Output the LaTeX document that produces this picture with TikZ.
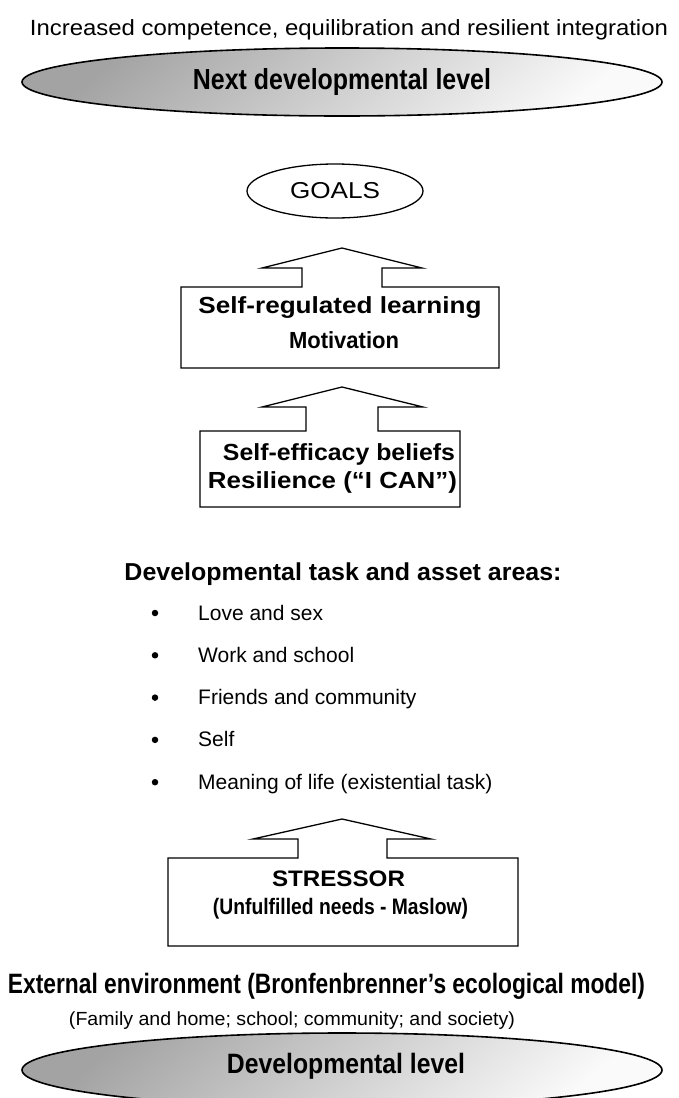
\documentclass[tikz,border=0pt]{standalone}
\usepackage{fontspec}
\setmainfont{Liberation Sans}
\usepackage{graphicx}
\usetikzlibrary{shapes.geometric}
% set a line of text at a given width, keeping its height
\newcommand\fitto[2]{\resizebox{#1}{\height}{#2}}
\newcommand\fs[1]{\fontsize{#1}{#1}\selectfont}
\begin{document}
\begin{tikzpicture}[x=1pt,y=-1pt,
  lbl/.style={inner sep=0pt, anchor=base},
  item/.style={inner sep=0pt, anchor=base west, font=\fs{21}},
  boxline/.style={draw=black, line width=1.3pt, line join=miter},
  level/.style={ellipse, draw=black, line width=1.6pt, inner sep=0pt,
    top color=black!36, bottom color=black!2, shading angle=40},
  dot/.style={circle, fill=black, inner sep=0pt, minimum size=6.5pt}]
\useasboundingbox (0,0) rectangle (678,1098);

% top caption and next level
\node[lbl, font=\fs{22}] (outcome) at (349,35.5)
  {\fitto{638pt}{Increased competence, equilibration and resilient integration}};
\node[level, minimum width=640pt, minimum height=68pt] (next) at (342,82) {};
\node[lbl, font=\fs{29}\bfseries] (nexttxt) at (342,89)
  {\fitto{298pt}{Next developmental level}};

% goals
\node[ellipse, draw=black, line width=1.3pt, minimum width=176pt, minimum height=54pt] (goals) at (335,191) {};
\node[lbl, font=\fs{23}] (goalstxt) at (335,198.3) {\fitto{90pt}{GOALS}};

% self-regulated learning box with arrow
\draw[boxline] (181,368) -- (181,287) -- (302,287) -- (302,268) -- (262,268)
  -- (342,248) -- (422,268) -- (382,268) -- (382,287) -- (499,287) -- (499,368) -- cycle;
\node[lbl, font=\fs{23.3}\bfseries] (srl) at (340,313) {\fitto{283pt}{Self-regulated learning}};
\node[lbl, font=\fs{23.3}\bfseries] (motiv) at (344,348.3) {\fitto{110pt}{Motivation}};

% self-efficacy box with arrow
\draw[boxline] (200,507) -- (200,431) -- (306,431) -- (306,407) -- (262,407)
  -- (342,387) -- (423,407) -- (378,407) -- (378,431) -- (460,431) -- (460,507) -- cycle;
\node[lbl, font=\fs{23.3}\bfseries] (eff) at (339,460) {\fitto{232pt}{Self-efficacy beliefs}};
\node[lbl, font=\fs{23.3}\bfseries] (resil) at (332.5,488.3) {\fitto{249pt}{Resilience (“I CAN”)}};

% developmental task areas
\node[lbl, font=\fs{24.5}\bfseries] (areas) at (343,580) {\fitto{437pt}{Developmental task and asset areas:}};
\foreach \yy/\txt [count=\i] in {620/Love and sex, 662.3/Work and school,
    704.6/Friends and community, 746.9/Self, 789.2/Meaning of life (existential task)} {
  \node[dot] (b\i) at (155,\yy-7) {};
  \node[item] (t\i) at (198,\yy) {\txt};
}

% stressor box with arrow
\draw[boxline] (168,946) -- (168,858) -- (298,858) -- (298,839) -- (253,839)
  -- (342,819) -- (431,839) -- (387,839) -- (387,858) -- (518,858) -- (518,946) -- cycle;
\node[lbl, font=\fs{22.4}\bfseries] (stress) at (338.5,886) {\fitto{133pt}{STRESSOR}};
\node[lbl, font=\fs{22.4}\bfseries] (unful) at (340.5,914) {\fitto{255pt}{(Unfulfilled needs - Maslow)}};

% external environment and current level
\node[lbl, font=\fs{28}\bfseries] (ext) at (326.5,993) {\fitto{637pt}{External environment (Bronfenbrenner’s ecological model)}};
\node[lbl, font=\fs{19}] (family) at (292,1025) {\fitto{446pt}{(Family and home; school; community; and society)}};
\node[level, minimum width=640pt, minimum height=74pt] (cur) at (342,1070) {};
\node[lbl, font=\fs{28}\bfseries] (curtxt) at (346,1073) {\fitto{238pt}{Developmental level}};
\end{tikzpicture}
\end{document}
